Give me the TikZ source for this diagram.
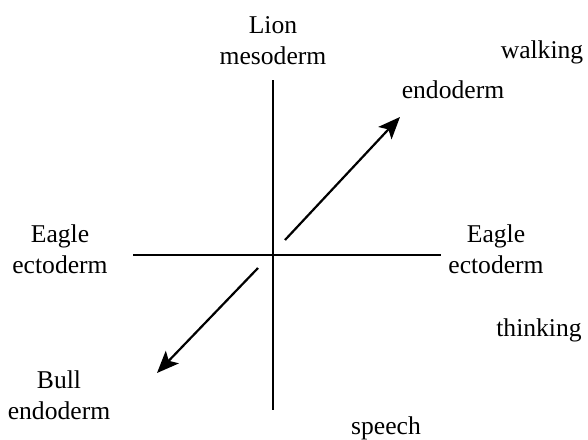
\documentclass[tikz,border=0pt]{standalone}
\usepackage{fontspec}
\setmainfont{Liberation Serif}
\usetikzlibrary{arrows.meta}
\begin{document}
\begin{tikzpicture}[x=0.5pt,y=-0.5pt,
  lbl/.style={align=center,anchor=base,inner sep=0pt,font=\fontsize{12.8}{15.5}\selectfont},
  axis/.style={line width=1.25pt},
  pointer/.style={line width=1.1pt,-{Stealth[length=11pt,width=9pt,inset=2.5pt]}}]
  \useasboundingbox (0,0) rectangle (588,439);
  \coordinate (top) at (273,80);
  \coordinate (bottom) at (273,410);
  \coordinate (left) at (133,255);
  \coordinate (right) at (441,255);
  \coordinate (upfrom) at (285,240);
  \coordinate (upto) at (400,117);
  \coordinate (downfrom) at (258,268);
  \coordinate (downto) at (157,373);
  \draw[axis] (top) -- (bottom);
  \draw[axis] (left) -- (right);
  \draw[pointer] (upfrom) -- (upto);
  \draw[pointer] (downfrom) -- (downto);
  \node[lbl] (lion) at (273,64) {Lion\\mesoderm};
  \node[lbl] (walking) at (542,58) {walking};
  \node[lbl] (endoup) at (453,98) {endoderm};
  \node[lbl] (eagleleft) at (60,273) {Eagle\\ectoderm};
  \node[lbl] (eagleright) at (496,273) {Eagle\\ectoderm};
  \node[lbl] (thinking) at (539,336) {thinking};
  \node[lbl] (bull) at (59,419) {Bull\\endoderm};
  \node[lbl] (speech) at (386,434) {speech};
\end{tikzpicture}
\end{document}
